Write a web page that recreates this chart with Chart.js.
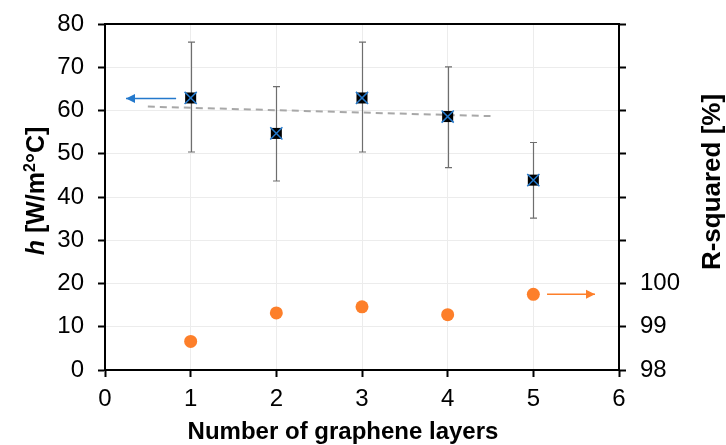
<!DOCTYPE html>
<html>
<head>
<meta charset="utf-8">
<script src="https://cdn.jsdelivr.net/npm/chart.js@4"></script>
<style>
  html, body { margin: 0; padding: 0; background: #fff; }
  #wrap { width: 726px; height: 445px; position: relative; }
</style>
</head>
<body>
<div id="wrap"><canvas id="chart"></canvas></div>
<script>
// data
const layers = [1, 2, 3, 4, 5];
const hValues = [62.9, 54.7, 62.9, 58.6, 43.9];
const hLow = [50.4, 43.7, 50.4, 46.8, 35.1];
const hHigh = [75.8, 65.5, 75.8, 70.1, 52.6];
const rSquared = [98.66, 99.32, 99.46, 99.28, 99.75];
const trendX = [0.5, 4.5];
const trendY = [60.9, 58.7];
const arrowLeftX = [0.83, 0.245];
const arrowLeftY = [62.8, 62.8];
const arrowRightX = [5.16, 5.72];
const arrowRightY = [99.75, 99.75];
const xTicks = [0, 1, 2, 3, 4, 5, 6];
const rTickLabels = [98, 99, 100];

const BLUE = '#2479cc';
const ORANGE = '#fd7f2a';
const FONT = '"Liberation Sans", Arial, sans-serif';

const pts = (xs, ys) => xs.map((x, i) => ({ x: x, y: ys[i] }));

// error bars, drawn under the markers
const errorBars = {
  id: 'errorBars',
  beforeDatasetsDraw(chart) {
    const { ctx, scales: { x, y } } = chart;
    ctx.save();
    ctx.strokeStyle = '#6e6e6e';
    ctx.lineWidth = 1.2;
    layers.forEach((l, i) => {
      const px = Math.round(x.getPixelForValue(l)) + 0.5;
      const top = y.getPixelForValue(hHigh[i]);
      const bot = y.getPixelForValue(hLow[i]);
      ctx.beginPath();
      ctx.moveTo(px, top); ctx.lineTo(px, bot);
      ctx.moveTo(px - 3.5, top); ctx.lineTo(px + 3.5, top);
      ctx.moveTo(px - 3.5, bot); ctx.lineTo(px + 3.5, bot);
      ctx.stroke();
    });
    ctx.restore();
  }
};

// arrow heads, top frame line and axis titles
const extras = {
  id: 'extras',
  afterDatasetsDraw(chart) {
    const { ctx, chartArea: a, scales: { x, y, y2 } } = chart;
    const head = (xs, ys, sc, col) => {
      const x0 = x.getPixelForValue(xs[0]), x1 = x.getPixelForValue(xs[1]);
      const y0 = sc.getPixelForValue(ys[0]), y1 = sc.getPixelForValue(ys[1]);
      const ang = Math.atan2(y1 - y0, x1 - x0);
      ctx.save();
      ctx.translate(x1, y1);
      ctx.rotate(ang);
      ctx.fillStyle = col;
      ctx.beginPath();
      ctx.moveTo(0, 0); ctx.lineTo(-9, -4.5); ctx.lineTo(-9, 4.5);
      ctx.closePath();
      ctx.fill();
      ctx.restore();
    };
    head(arrowLeftX, arrowLeftY, y, BLUE);
    head(arrowRightX, arrowRightY, y2, ORANGE);

    ctx.save();
    ctx.strokeStyle = '#000';
    ctx.lineWidth = 2;
    ctx.beginPath();
    ctx.moveTo(a.left - 1, a.top); ctx.lineTo(a.right + 1, a.top);
    ctx.stroke();

    ctx.fillStyle = '#000';
    // x title
    ctx.font = 'bold 24px ' + FONT;
    ctx.textAlign = 'center';
    ctx.textBaseline = 'alphabetic';
    ctx.fillText('Number of graphene layers', 343, 439);

    // left title with italic h and superscript
    ctx.save();
    ctx.translate(44, 191);
    ctx.rotate(-Math.PI / 2);
    const parts = [
      ['italic bold 25px ' + FONT, 'h', 0],
      ['bold 25px ' + FONT, ' [W/m', 0],
      ['bold 16px ' + FONT, '2', -9],
      ['bold 25px ' + FONT, '°C]', 0]
    ];
    let total = 0;
    parts.forEach(p => { ctx.font = p[0]; total += ctx.measureText(p[1]).width; });
    let cx = -total / 2;
    ctx.textAlign = 'left';
    parts.forEach(p => {
      ctx.font = p[0];
      ctx.fillText(p[1], cx, p[2]);
      cx += ctx.measureText(p[1]).width;
    });
    ctx.restore();

    // right title
    ctx.save();
    ctx.translate(720, 182);
    ctx.rotate(-Math.PI / 2);
    ctx.font = 'bold 26px ' + FONT;
    ctx.textAlign = 'center';
    ctx.fillText('R-squared [%]', 0, 0);
    ctx.restore();
    ctx.restore();
  }
};

const tickFont = { family: FONT, size: 24 };
const noOverflow = s => { s.paddingTop = 0; s.paddingBottom = 0; s.paddingLeft = 0; s.paddingRight = 0; };

new Chart(document.getElementById('chart'), {
  type: 'scatter',
  data: {
    datasets: [
      {
        label: 'h cross',
        data: pts(layers, hValues),
        yAxisID: 'y',
        pointStyle: 'crossRot',
        pointRadius: 8.6,
        borderColor: BLUE,
        borderWidth: 1.5,
        order: 0
      },
      {
        label: 'h',
        data: pts(layers, hValues),
        yAxisID: 'y',
        pointStyle: 'rect',
        pointRadius: 7.8,
        backgroundColor: '#000',
        borderColor: '#000',
        borderWidth: 0,
        order: 1
      },
      {
        label: 'R-squared',
        data: pts(layers, rSquared),
        yAxisID: 'y2',
        pointStyle: 'circle',
        pointRadius: 6.5,
        backgroundColor: ORANGE,
        borderColor: ORANGE,
        borderWidth: 0,
        order: 2
      },
      {
        label: 'trend',
        data: pts(trendX, trendY),
        yAxisID: 'y',
        showLine: true,
        pointRadius: 0,
        borderColor: '#a8a8a8',
        borderWidth: 2,
        borderDash: [7, 5],
        order: 3
      },
      {
        label: 'arrow h',
        data: pts(arrowLeftX, arrowLeftY),
        yAxisID: 'y',
        showLine: true,
        pointRadius: 0,
        borderColor: BLUE,
        borderWidth: 1.5,
        order: 4
      },
      {
        label: 'arrow R',
        data: pts(arrowRightX, arrowRightY),
        yAxisID: 'y2',
        showLine: true,
        pointRadius: 0,
        borderColor: ORANGE,
        borderWidth: 1.5,
        order: 5
      }
    ]
  },
  options: {
    responsive: true,
    maintainAspectRatio: false,
    animation: false,
    events: [],
    layout: { padding: { top: 24, left: 0, right: 0, bottom: 0 } },
    plugins: { legend: { display: false }, tooltip: { enabled: false } },
    scales: {
      x: {
        type: 'linear',
        min: 0, max: 6,
        afterBuildTicks: s => { s.ticks = xTicks.map(v => ({ value: v })); },
        afterFit: s => { s.height = 75; noOverflow(s); },
        ticks: { color: '#000', font: tickFont, padding: 8, maxRotation: 0 },
        grid: { color: '#ececec', lineWidth: 1, tickColor: '#000', tickLength: 7, tickWidth: 2 },
        border: { color: '#000', width: 2 }
      },
      y: {
        position: 'left',
        min: 0, max: 80,
        ticks: { stepSize: 10, color: '#000', font: tickFont, padding: 14 },
        afterFit: s => { s.width = 105; noOverflow(s); },
        grid: { color: '#ececec', lineWidth: 1, tickColor: '#000', tickLength: 7, tickWidth: 2 },
        border: { color: '#000', width: 2 }
      },
      y2: {
        position: 'right',
        min: 98, max: 106,
        ticks: {
          stepSize: 1, color: '#000', font: tickFont, padding: 14,
          callback: v => rTickLabels.includes(v) ? String(v) : ''
        },
        afterFit: s => { s.width = 107; noOverflow(s); },
        grid: { drawOnChartArea: false, tickColor: '#000', tickLength: 7, tickWidth: 2 },
        border: { color: '#000', width: 2 }
      }
    }
  },
  plugins: [errorBars, extras]
});
</script>
</body>
</html>
